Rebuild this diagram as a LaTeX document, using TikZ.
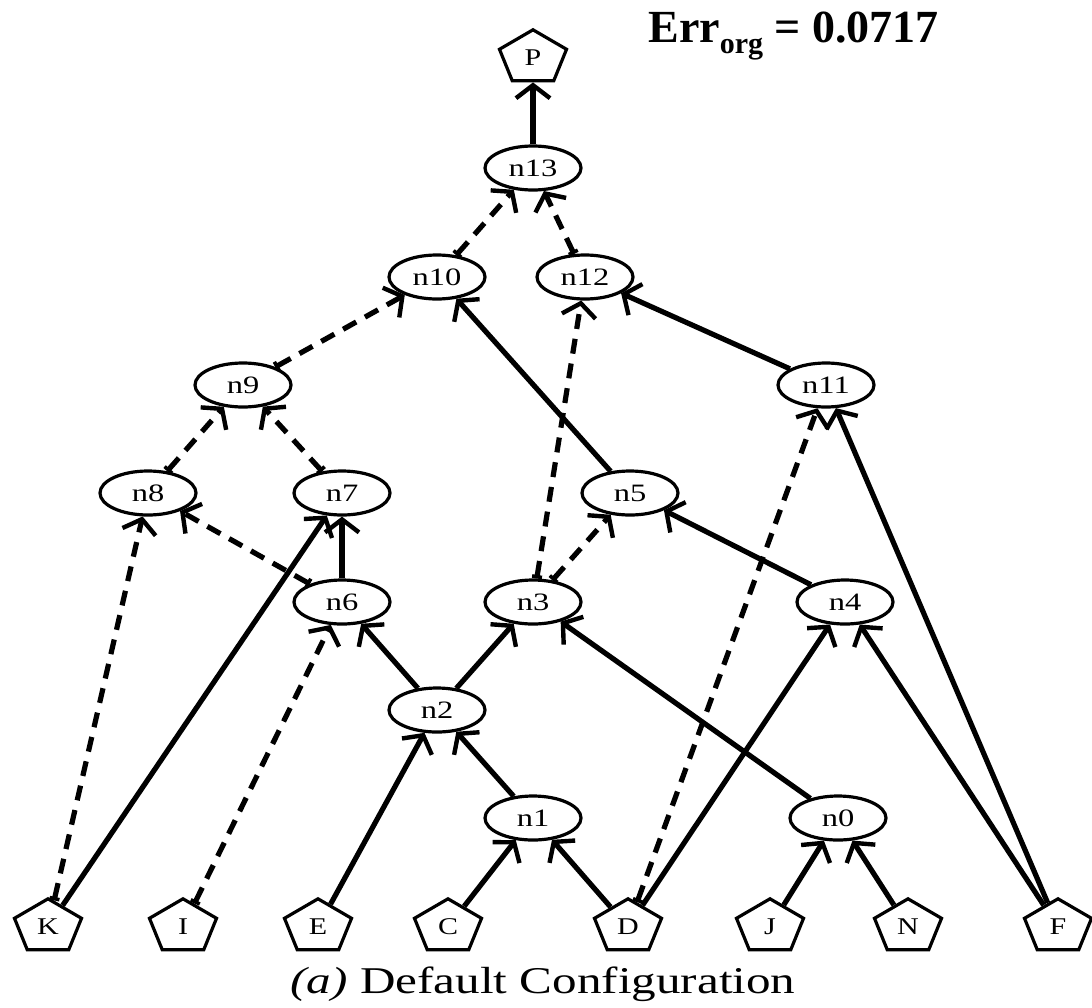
\documentclass[tikz,border=0pt]{standalone}
\usepackage{fontspec}
\setmainfont{Liberation Serif}
% horizontally widened face for the node and caption lettering
\newfontfamily\widefont[FakeStretch=1.3]{Liberation Serif}
\usetikzlibrary{shapes.geometric,arrows.meta}

% pentagon leaf: built at the origin of a shifted scope so that the
% horizontal stretch of the shape does not move its position
\newcommand\pentnode[3]{%
  \begin{scope}[shift={#2}]
    \node[leaf] (#1) at (0,0) {#3};
  \end{scope}}

\begin{document}
\begin{tikzpicture}[x=0.5pt,y=-0.5pt,
  inner/.style={ellipse,draw,line width=1.6pt,minimum width=48pt,
    minimum height=22pt,inner sep=0pt,
    font=\widefont\fontsize{12.5}{14}\selectfont},
  leaf/.style={regular polygon,regular polygon sides=5,draw,line width=1.6pt,
    minimum size=28.2pt,inner sep=0pt,xscale=1.25,transform shape,
    font=\fontsize{12}{13}\selectfont},
  vtip/.tip={Straight Barb[length=6.5pt,width=17pt,line width=2.2pt]},
  link/.style={line width=2.6pt,-vtip},
  maybe/.style={line width=2.6pt,dash pattern=on 7.5pt off 5pt,
    {Bar[width=5pt,line width=1.8pt]}-vtip},
]
\useasboundingbox (0,0) rectangle (1092,1007);

% inner nodes
\node[inner] (n13) at (533,168) {n13};
\node[inner] (n10) at (437,277) {n10};
\node[inner] (n12) at (585,277) {n12};
\node[inner] (n9)  at (243,385) {n9};
\node[inner] (n11) at (826,385) {n11};
\node[inner] (n8)  at (148,493) {n8};
\node[inner] (n7)  at (342,493) {n7};
\node[inner] (n5)  at (630,493) {n5};
\node[inner] (n6)  at (342,602) {n6};
\node[inner] (n3)  at (533,602) {n3};
\node[inner] (n4)  at (845,602) {n4};
\node[inner] (n2)  at (437,710) {n2};
\node[inner] (n1)  at (533,818) {n1};
\node[inner] (n0)  at (838,818) {n0};

% root and leaves
\pentnode{P}{(533,58)}{P}
\pentnode{K}{(48,927)}{K}
\pentnode{I}{(183,927)}{I}
\pentnode{E}{(318,927)}{E}
\pentnode{C}{(448,927)}{C}
\pentnode{D}{(628,927)}{D}
\pentnode{J}{(770,927)}{J}
\pentnode{N}{(908,927)}{N}
\pentnode{F}{(1058,927)}{F}

% solid links
\draw[link] (n13) -- (P);
\draw[link] (n5) -- (n10);
\draw[link] (n11) -- (n12);
\draw[link] (K) -- (n7);
\draw[link] (n6) -- (n7);
\draw[link] (n4) -- (n5);
\draw[link] (n2) -- (n6);
\draw[link] (n2) -- (n3);
\draw[link] (n0) -- (n3);
\draw[link] (D) -- (n4);
\draw[link] (F) -- (n4);
\draw[link] (F) -- (n11);
\draw[link] (E) -- (n2);
\draw[link] (n1) -- (n2);
\draw[link] (C) -- (n1);
\draw[link] (D) -- (n1);
\draw[link] (J) -- (n0);
\draw[link] (N) -- (n0);

% dashed links
\draw[maybe] (n10) -- (n13);
\draw[maybe] (n12) -- (n13);
\draw[maybe] (n9) -- (n10);
\draw[maybe] (n3) -- (n12);
\draw[maybe] (n8) -- (n9);
\draw[maybe] (n7) -- (n9);
\draw[maybe] (n6) -- (n8);
\draw[maybe] (K) -- (n8);
\draw[maybe] (n3) -- (n5);
\draw[maybe] (I) -- (n6);
\draw[maybe] (D) -- (n11);

% error figure and caption
\node[anchor=base west,inner sep=0pt] (err) at (648,42)
  {\fontsize{23}{26}\selectfont\bfseries Err\raisebox{-5.5pt}{\fontsize{15}{17}\selectfont org} = 0.0717};
\node[anchor=base,inner sep=0pt] (caption) at (543,993)
  {\widefont\fontsize{18.9}{22}\selectfont\itshape (a)\upshape\ Default Configuration};
\end{tikzpicture}
\end{document}
